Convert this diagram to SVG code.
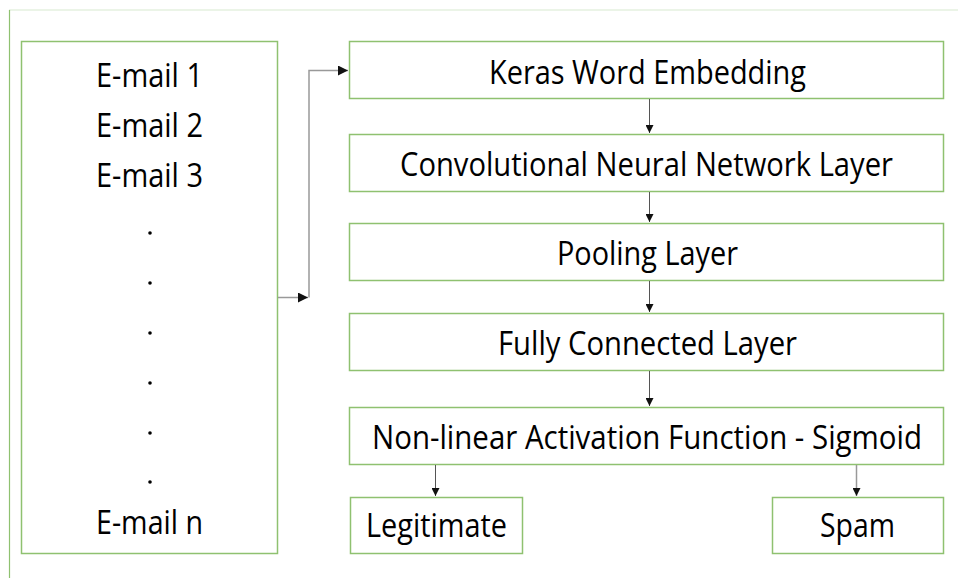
<svg xmlns="http://www.w3.org/2000/svg" width="958" height="578" viewBox="0 0 958 578">
<defs>
<style>
.box{fill:#fff;stroke:#8fc170;stroke-width:1.5}
.t{font-family:"Open Sans","Noto Sans","Liberation Sans",sans-serif;font-size:33px;fill:#000}
.c{fill:none;stroke:#555;stroke-width:1}
.cg{fill:none;stroke:#999;stroke-width:1.5}
</style>
<marker id="ah" viewBox="0 0 10 10" refX="10" refY="5" markerWidth="8" markerHeight="8" markerUnits="userSpaceOnUse" orient="auto">
<path d="M0,0 L10,5 L0,10 z" fill="#111"/>
</marker>
<marker id="ahL" viewBox="0 0 10 10" refX="10" refY="5" markerWidth="10" markerHeight="10" markerUnits="userSpaceOnUse" orient="auto">
<path d="M0,0 L10,5 L0,10 z" fill="#111"/>
</marker>
</defs>
<rect width="958" height="578" fill="#fff"/>
<g id="frame">
<line x1="9" y1="10" x2="958" y2="10" stroke="#d8ead0" stroke-width="1.2"/>
<line x1="9.5" y1="10" x2="9.5" y2="578" stroke="#8fc170" stroke-width="1.2"/>
</g>
<g id="emails">
<rect class="box" x="21.5" y="41.5" width="256" height="512"/>
<text class="t" x="96" y="87" textLength="107" lengthAdjust="spacingAndGlyphs">E-mail 1</text>
<text class="t" x="96" y="137" textLength="107" lengthAdjust="spacingAndGlyphs">E-mail 2</text>
<text class="t" x="96" y="187" textLength="107" lengthAdjust="spacingAndGlyphs">E-mail 3</text>
<circle cx="150" cy="233" r="1.8" fill="#000"/>
<circle cx="150" cy="283" r="1.8" fill="#000"/>
<circle cx="150" cy="333" r="1.8" fill="#000"/>
<circle cx="150" cy="383" r="1.8" fill="#000"/>
<circle cx="150" cy="433" r="1.8" fill="#000"/>
<circle cx="150" cy="482" r="1.8" fill="#000"/>
<text class="t" x="96" y="534" textLength="107" lengthAdjust="spacingAndGlyphs">E-mail n</text>
</g>
<g id="embedding">
<rect class="box" x="349.5" y="41.5" width="594" height="57"/>
<text class="t" x="489" y="84" textLength="317" lengthAdjust="spacingAndGlyphs">Keras Word Embedding</text>
</g>
<g id="cnn">
<rect class="box" x="349.5" y="134.5" width="594" height="57"/>
<text class="t" x="400" y="176" textLength="493" lengthAdjust="spacingAndGlyphs">Convolutional Neural Network Layer</text>
</g>
<g id="pooling">
<rect class="box" x="349.5" y="223.5" width="594" height="57"/>
<text class="t" x="557" y="265" textLength="181" lengthAdjust="spacingAndGlyphs">Pooling Layer</text>
</g>
<g id="fc">
<rect class="box" x="349.5" y="313.5" width="594" height="57"/>
<text class="t" x="498" y="355" textLength="299" lengthAdjust="spacingAndGlyphs">Fully Connected Layer</text>
</g>
<g id="activation">
<rect class="box" x="349.5" y="407.5" width="594" height="57"/>
<text class="t" x="372" y="449" textLength="550" lengthAdjust="spacingAndGlyphs">Non-linear Activation Function - Sigmoid</text>
</g>
<g id="legitimate">
<rect class="box" x="350.5" y="497.5" width="172" height="56"/>
<text class="t" x="366" y="537" textLength="141" lengthAdjust="spacingAndGlyphs">Legitimate</text>
</g>
<g id="spam">
<rect class="box" x="772.5" y="497.5" width="171" height="56"/>
<text class="t" x="820" y="537" textLength="75" lengthAdjust="spacingAndGlyphs">Spam</text>
</g>
<g id="connectors">
<line class="cg" x1="278" y1="297.5" x2="308" y2="297.5" marker-end="url(#ahL)"/>
<polyline class="cg" points="309,297.5 309,70.5 348,70.5" marker-end="url(#ahL)"/>
<line class="c" x1="649.5" y1="99" x2="649.5" y2="133" marker-end="url(#ah)"/>
<line class="c" x1="649.5" y1="192" x2="649.5" y2="222" marker-end="url(#ah)"/>
<line class="c" x1="649.5" y1="281" x2="649.5" y2="312" marker-end="url(#ah)"/>
<line class="c" x1="649.5" y1="371" x2="649.5" y2="406" marker-end="url(#ah)"/>
<line class="c" x1="435.5" y1="465" x2="435.5" y2="496" marker-end="url(#ah)"/>
<line class="cg" x1="856.5" y1="465" x2="856.5" y2="496" marker-end="url(#ah)"/>
</g>
</svg>
